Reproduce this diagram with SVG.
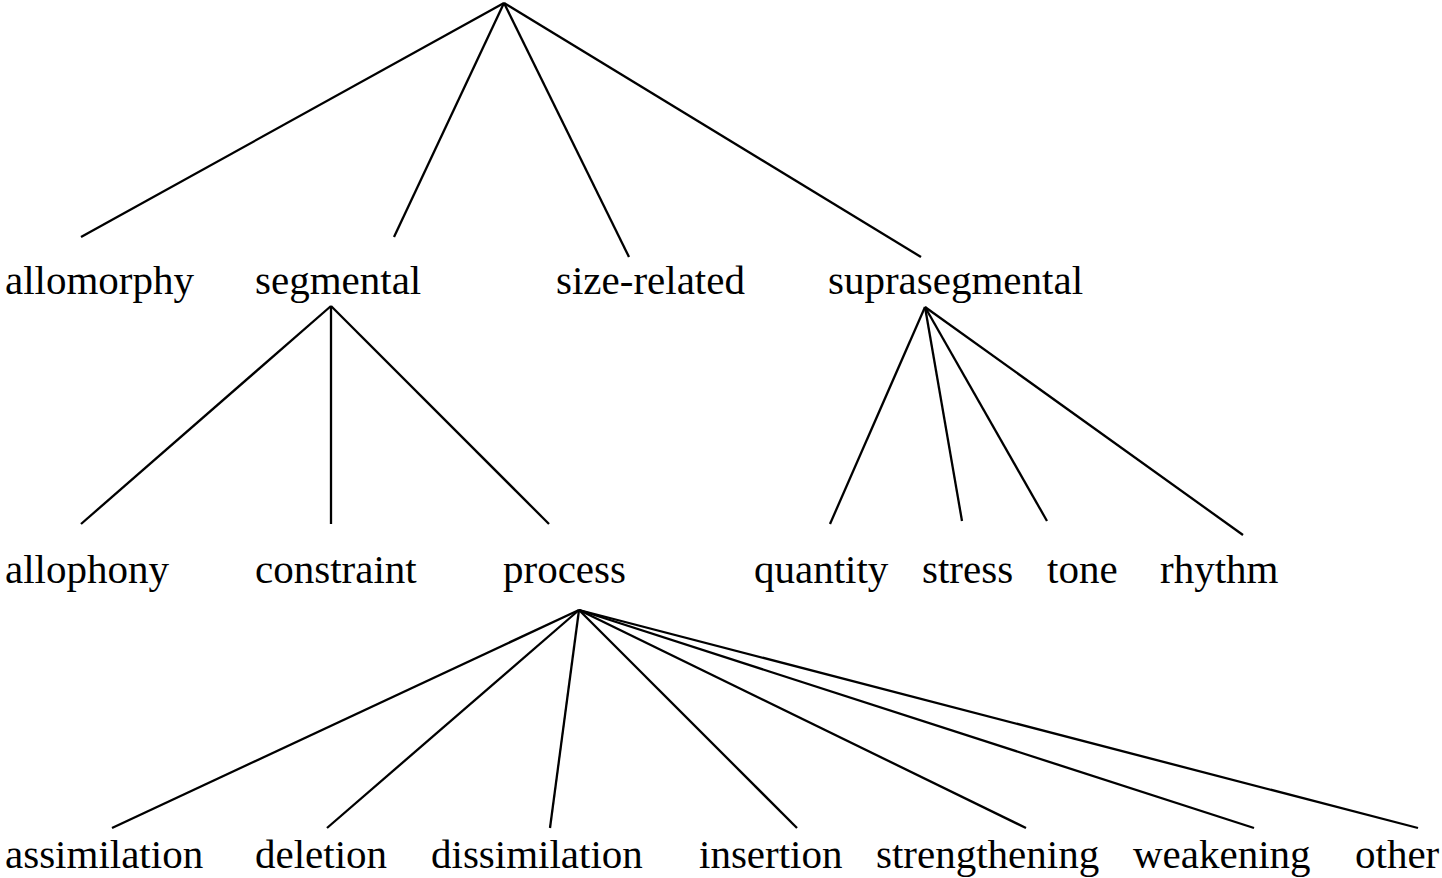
<svg xmlns="http://www.w3.org/2000/svg" width="1442" height="878" viewBox="0 0 1442 878">
<style>
text{font-family:"Liberation Serif","Times New Roman",serif;font-size:41px;fill:#000}
line{stroke:#000;stroke-width:2.3}
</style>
<rect width="1442" height="878" fill="#fff"/>
<g id="connectors">
<line x1="504" y1="3" x2="81" y2="237"/>
<line x1="504" y1="3" x2="394" y2="237"/>
<line x1="504" y1="3" x2="629" y2="257"/>
<line x1="504" y1="3" x2="921" y2="257"/>
<line x1="331" y1="306" x2="81" y2="524"/>
<line x1="331" y1="306" x2="331" y2="524"/>
<line x1="331" y1="306" x2="549" y2="524"/>
<line x1="925" y1="307" x2="830" y2="524"/>
<line x1="925" y1="307" x2="962" y2="521"/>
<line x1="925" y1="307" x2="1047" y2="521"/>
<line x1="925" y1="307" x2="1243" y2="535"/>
<line x1="579" y1="610" x2="112" y2="828"/>
<line x1="579" y1="610" x2="327" y2="828"/>
<line x1="579" y1="610" x2="550" y2="828"/>
<line x1="579" y1="610" x2="797" y2="828"/>
<line x1="579" y1="610" x2="1026" y2="828"/>
<line x1="579" y1="610" x2="1254" y2="828"/>
<line x1="579" y1="610" x2="1418" y2="828"/>
</g>
<g id="allomorphy"><text x="5" y="294">allomorphy</text></g>
<g id="segmental"><text x="255" y="294">segmental</text></g>
<g id="size-related"><text x="556" y="294">size-related</text></g>
<g id="suprasegmental"><text x="828" y="294">suprasegmental</text></g>
<g id="allophony"><text x="5" y="583">allophony</text></g>
<g id="constraint"><text x="255" y="583">constraint</text></g>
<g id="process"><text x="503" y="583">process</text></g>
<g id="quantity"><text x="754" y="583">quantity</text></g>
<g id="stress"><text x="922" y="583">stress</text></g>
<g id="tone"><text x="1047" y="583">tone</text></g>
<g id="rhythm"><text x="1160" y="583">rhythm</text></g>
<g id="assimilation"><text x="5" y="868">assimilation</text></g>
<g id="deletion"><text x="255" y="868">deletion</text></g>
<g id="dissimilation"><text x="431" y="868">dissimilation</text></g>
<g id="insertion"><text x="699" y="868">insertion</text></g>
<g id="strengthening"><text x="876" y="868">strengthening</text></g>
<g id="weakening"><text x="1133" y="868">weakening</text></g>
<g id="other"><text x="1355" y="868">other</text></g>
</svg>
